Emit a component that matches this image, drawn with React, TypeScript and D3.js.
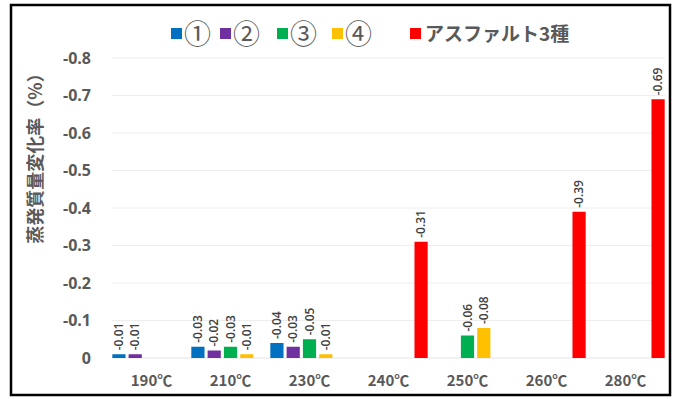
import React from "react";
import * as d3 from "d3";

// ─── Data ─────────────────────────────────────────────────────────────────────
const CATEGORIES = ["190℃", "210℃", "230℃", "240℃", "250℃", "260℃", "280℃"];
const SERIES_NAMES = ["①", "②", "③", "④", "アスファルト3種"];
const S1 = [-0.01, -0.03, -0.04, null, null, null, null];
const S2 = [-0.01, -0.02, -0.03, null, null, null, null];
const S3 = [null, -0.03, -0.05, null, -0.06, null, null];
const S4 = [null, -0.01, -0.01, null, -0.08, null, null];
const S5 = [null, null, null, -0.31, null, -0.39, -0.69];
const Y_TICKS = [0, -0.1, -0.2, -0.3, -0.4, -0.5, -0.6, -0.7, -0.8];
const Y_TITLE = "蒸発質量変化率（%）";

// ─── Design tokens ────────────────────────────────────────────────────────────
const W = 678;
const H = 399;
const PLOT = { left: 112, right: 665, top: 58, bottom: 358 };
const COLORS = ["#0070C0", "#7030A0", "#00B050", "#FFC000", "#FF0000"];
const AXIS_TEXT = "#595959";
const LABEL_TEXT = "#404040";
const GRID = "#eeeeee";
const FONT = "'Noto Sans CJK JP', 'Noto Sans', sans-serif";
const NUM_FONT = "'Open Sans', 'Noto Sans', sans-serif";

const ALL = [S1, S2, S3, S4, S5];

export default function App() {
  const x = d3
    .scaleBand<string>()
    .domain(CATEGORIES)
    .range([PLOT.left, PLOT.right])
    .padding(0);
  const xs = d3
    .scaleBand<number>()
    .domain(d3.range(SERIES_NAMES.length))
    .range([0, x.bandwidth()])
    .paddingInner(0.19)
    .paddingOuter(0.02);
  const y = d3.scaleLinear().domain([0, -0.8]).range([PLOT.bottom, PLOT.top]);

  const fmt = (v: number) => v.toFixed(2);

  // legend item x positions (square left edge)
  const legendX = [171, 220, 277, 332, 410];

  return (
    <svg
      width={W}
      height={H}
      style={{ position: "fixed", top: 0, left: 0, fontFamily: FONT, background: "#fff" }}
    >
      <rect x={0} y={0} width={W} height={H} fill="#fff" />
      <rect x={11} y={5} width={659} height={390} fill="none" stroke="#000" strokeWidth={2.5} />

      {/* grid */}
      {Y_TICKS.map((t) => (
        <line
          key={t}
          x1={PLOT.left}
          x2={PLOT.right}
          y1={y(t)}
          y2={y(t)}
          stroke={t === 0 ? "#e4e4e4" : GRID}
          strokeWidth={1}
        />
      ))}

      {/* y ticks */}
      {Y_TICKS.map((t) => (
        <text
          key={"t" + t}
          x={91}
          y={y(t)}
          dy="0.35em"
          textAnchor="end"
          fontSize={16}
          fontWeight="bold"
          fill={AXIS_TEXT}
          fontFamily={NUM_FONT}
        >
          {t === 0 ? "0" : t.toFixed(1)}
        </text>
      ))}

      {/* y title */}
      <text
        transform={`translate(36,154) rotate(-90)`}
        textAnchor="middle"
        dy="0.35em"
        fontSize={18}
        fontWeight="bold"
        fill={AXIS_TEXT}
      >
        {Y_TITLE}
      </text>

      {/* x labels */}
      {CATEGORIES.map((c) => (
        <text
          key={c}
          x={(x(c) ?? 0) + x.bandwidth() / 2}
          y={381}
          dy="0.35em"
          textAnchor="middle"
          fontSize={15}
          fontWeight="bold"
          fill={AXIS_TEXT}
        >
          {c}
        </text>
      ))}

      {/* bars */}
      {ALL.map((series, si) =>
        series.map((v, ci) => {
          if (v == null) return null;
          const bx = (x(CATEGORIES[ci]) ?? 0) + (xs(si) ?? 0);
          const top = y(v);
          return (
            <g key={si + "-" + ci}>
              <rect
                x={bx}
                y={top}
                width={xs.bandwidth()}
                height={y(0) - top}
                fill={COLORS[si]}
              />
              <text
                transform={`translate(${bx + xs.bandwidth() / 2},${top - 4}) rotate(-90)`}
                dy="0.35em"
                textAnchor="start"
                fontSize={12}
                fontWeight={600}
                fill={LABEL_TEXT}
                fontFamily={NUM_FONT}
              >
                {fmt(v)}
              </text>
            </g>
          );
        })
      )}

      {/* legend */}
      {SERIES_NAMES.map((n, i) => (
        <g key={n} transform={`translate(${legendX[i]},34)`}>
          <rect x={0} y={-6} width={11} height={11} fill={COLORS[i]} />
          <text
            x={i < 4 ? 13 : 15}
            dy="0.36em"
            fontSize={i < 4 ? 27 : 19}
            fontWeight={i < 4 ? "normal" : "bold"}
            fill={AXIS_TEXT}
          >
            {n}
          </text>
        </g>
      ))}
    </svg>
  );
}
